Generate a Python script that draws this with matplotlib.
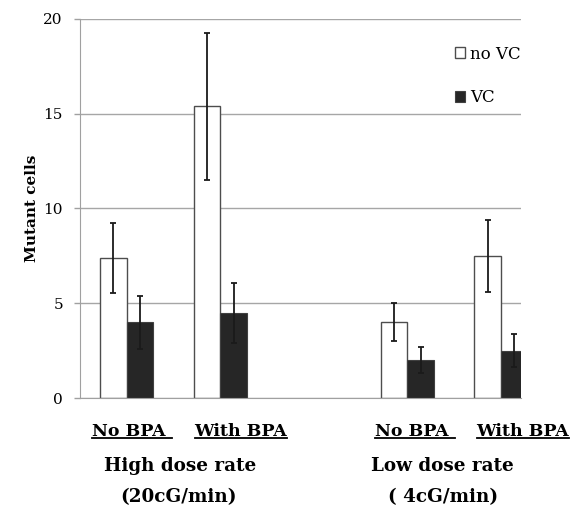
import numpy as np
import matplotlib.pyplot as plt
from matplotlib.lines import Line2D

# bar data (mean mutant cells, error)
slots = [0, 1, 3, 4]
no_vc = [7.4, 15.4, 4.0, 7.5]
no_vc_err = [1.85, 3.87, 1.0, 1.88]
vc = [4.0, 4.5, 2.0, 2.5]
vc_err = [1.4, 1.58, 0.7, 0.86]

sub_labels = ['No BPA ', 'With BPA', 'No BPA ', 'With BPA']
group_labels = ['High dose rate', 'Low dose rate']
rate_labels = ['(20cG/min)', '( 4cG/min)']

W, H = 571, 508
fig = plt.figure(figsize=(W / 100, H / 100), dpi=100)
ax = fig.add_axes([80 / W, 110 / H, 441 / W, 379 / H])

x = np.array(slots, dtype=float)
w = 0.285
ekw = dict(ecolor='#1a1a1a', elinewidth=1.3, capsize=2.3, capthick=1.3)
ax.bar(x - w / 2, no_vc, w, color='white', edgecolor='#4d4d4d', linewidth=1,
       yerr=no_vc_err, error_kw=ekw, label='no VC', zorder=2)
ax.bar(x + w / 2, vc, w, color='#262626', edgecolor='#404040', linewidth=0.8,
       yerr=vc_err, error_kw=ekw, label='VC', zorder=2)

ax.set_xlim(-0.5, 4.215)
ax.set_ylim(0, 20)
ax.set_yticks([0, 5, 10, 15, 20])
ax.set_xticks([])
ax.yaxis.grid(True, color='#a6a6a6', linewidth=1)
ax.set_axisbelow(True)
for s in ['top', 'right']:
    ax.spines[s].set_visible(False)
ax.spines['left'].set_color('#a0a0a0')
ax.spines['bottom'].set_color('#a0a0a0')
ax.tick_params(axis='y', direction='out', length=4.3, width=1, color='#a0a0a0',
               pad=8, labelsize=11)
for t in ax.get_yticklabels():
    t.set_family('DejaVu Serif')

ax.set_ylabel('Mutant cells', family='DejaVu Serif', fontweight='bold',
              fontsize=11, labelpad=3)

leg = ax.legend(loc='upper left', bbox_to_anchor=(0.851, 0.93), frameon=False,
                prop={'family': 'DejaVu Serif', 'size': 12},
                handlelength=0.6, handleheight=0.6, handletextpad=0.3,
                labelspacing=1.6, borderpad=0, borderaxespad=0)

# labels below the axis
bold = dict(family='DejaVu Serif', fontweight='bold', fontsize=13.2,
            ha='center', va='center')
sub_x = [132, 241, 415, 523]
subs = []
for lab, px in zip(sub_labels, sub_x):
    subs.append(fig.text(px / W, 1 - 431 / H, lab, **dict(bold, fontsize=12.5)))
for lab, px in zip(group_labels, [180, 442]):
    fig.text(px / W, 1 - 466 / H, lab, **bold)
for lab, px in zip(rate_labels, [178, 443]):
    fig.text(px / W, 1 - 497 / H, lab, **bold)

# underline the BPA labels
fig.canvas.draw()
r = fig.canvas.get_renderer()
for t in subs:
    bb = t.get_window_extent(r)
    y = bb.y0 + 2
    fig.add_artist(Line2D([bb.x0 / W, bb.x1 / W], [y / H, y / H],
                          color='black', linewidth=1.3))

fig.savefig('out.png', dpi=100)
